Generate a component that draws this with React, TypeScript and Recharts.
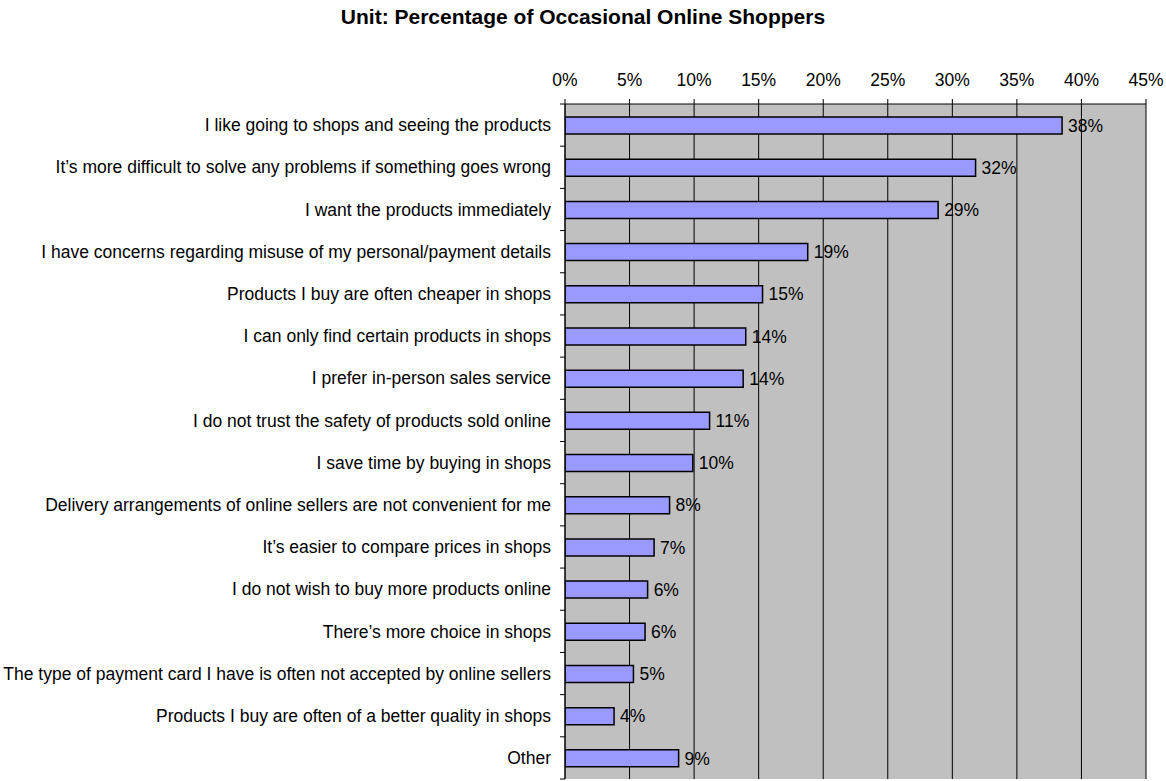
import React from 'react';
import { BarChart, Bar, XAxis, YAxis, CartesianGrid, LabelList } from 'recharts';

const categories = [
  'I like going to shops and seeing the products',
  'It’s more difficult to solve any problems if something goes wrong',
  'I want the products immediately',
  'I have concerns regarding misuse of my personal/payment details',
  'Products I buy are often cheaper in shops',
  'I can only find certain products in shops',
  'I prefer in-person sales service',
  'I do not trust the safety of products sold online',
  'I save time by buying in shops',
  'Delivery arrangements of online sellers are not convenient for me',
  'It’s easier to compare prices in shops',
  'I do not wish to buy more products online',
  'There’s more choice in shops',
  'The type of payment card I have is often not accepted by online sellers',
  'Products I buy are often of a better quality in shops',
  'Other',
];

const values = [38.5, 31.8, 28.9, 18.8, 15.3, 14.0, 13.8, 11.2, 9.9, 8.1, 6.9, 6.4, 6.2, 5.3, 3.8, 8.8];

const valueLabels = ['38%', '32%', '29%', '19%', '15%', '14%', '14%', '11%', '10%', '8%', '7%', '6%', '6%', '5%', '4%', '9%'];

const xTicks = [0, 5, 10, 15, 20, 25, 30, 35, 40, 45];

const title = 'Unit: Percentage of Occasional Online Shoppers';

const data = categories.map((name, i) => ({ name, value: values[i], label: valueLabels[i] }));

const FONT = '"Liberation Sans", Arial, Helvetica, sans-serif';
const FS = 17.5;
const Y_TICK_SIZE = 5;
const Y_TICK_MARGIN = 9;

const YTick = (props: any) => {
  const { x, y, payload, index, height } = props;
  const band = (height ?? 675) / categories.length;
  const axisX = x + Y_TICK_SIZE + Y_TICK_MARGIN;
  const last = index === categories.length - 1;
  return (
    <g>
      <line x1={axisX - Y_TICK_SIZE} x2={axisX} y1={y - band / 2} y2={y - band / 2} stroke="#000" strokeWidth={1} />
      {last && (
        <line x1={axisX - Y_TICK_SIZE} x2={axisX} y1={y + band / 2} y2={y + band / 2} stroke="#000" strokeWidth={1} />
      )}
      <text x={x} y={y} dy="0.355em" textAnchor="end" fill="#000" fontSize={FS} fontFamily={FONT}>
        {payload.value}
      </text>
    </g>
  );
};

export default function App() {
  return (
    <div style={{ position: 'absolute', left: 0, top: 0, width: 1166, height: 781, background: '#fff', fontFamily: FONT }}>
      <div
        style={{
          position: 'absolute',
          left: 0,
          top: 6,
          width: 1166,
          textAlign: 'center',
          fontSize: 21,
          fontWeight: 'bold',
          lineHeight: '22px',
          color: '#000',
          fontFamily: FONT,
        }}
      >
        {title}
      </div>
      <BarChart
        width={1166}
        height={781}
        data={data}
        layout="vertical"
        margin={{ top: 0, right: 20, bottom: 2, left: 0 }}
        barSize={17}
      >
        <CartesianGrid horizontal={false} vertical={true} stroke="#000" strokeOpacity={1} fill="#C0C0C0" fillOpacity={1} />
        <XAxis
          type="number"
          orientation="top"
          domain={[0, 45]}
          ticks={xTicks}
          interval={0}
          height={104}
          tickFormatter={(v: number) => `${v}%`}
          tick={{ fill: '#000', fontSize: FS, fontFamily: FONT }}
          tickSize={5}
          tickMargin={13}
          axisLine={{ stroke: '#000' }}
          tickLine={{ stroke: '#000' }}
          allowDataOverflow
        />
        <YAxis
          type="category"
          dataKey="name"
          width={565}
          interval={0}
          tickLine={false}
          tickSize={Y_TICK_SIZE}
          tickMargin={Y_TICK_MARGIN}
          axisLine={{ stroke: '#000' }}
          tick={<YTick />}
        />
        <Bar dataKey="value" fill="#9999FF" stroke="#000" strokeWidth={1.5} isAnimationActive={false}>
          <LabelList dataKey="label" position="right" offset={6} fill="#000" fontSize={FS} fontFamily={FONT} />
        </Bar>
      </BarChart>
    </div>
  );
}
